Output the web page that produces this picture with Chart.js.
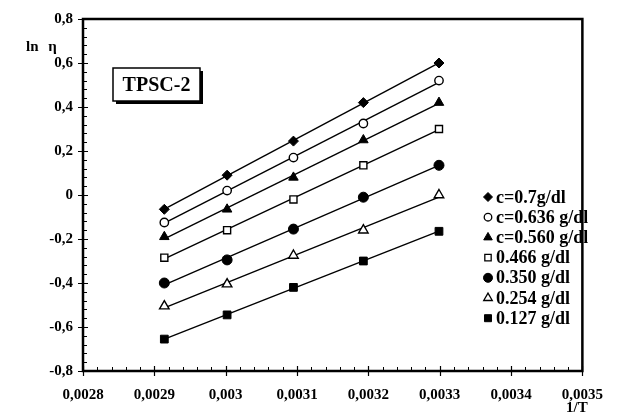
<!DOCTYPE html>
<html>
<head>
<meta charset="utf-8">
<script src="https://cdn.jsdelivr.net/npm/chart.js@4/dist/chart.umd.min.js"></script>
<style>
  html, body { margin: 0; padding: 0; background: #ffffff; }
  #wrap { width: 618px; height: 418px; }
</style>
</head>
<body>
<div id="wrap"><canvas id="c" width="618" height="418"></canvas></div>
<script>
// Reciprocal temperature of the measurements (1/K)
const invT = [0.002914, 0.003002, 0.003095, 0.003193, 0.003299];

// ln(eta) for each concentration
const c0700 = [-0.065, 0.09, 0.245, 0.42, 0.60];
const c0636 = [-0.125, 0.02, 0.17, 0.325, 0.52];
const c0560 = [-0.19, -0.065, 0.08, 0.25, 0.42];
const c0466 = [-0.285, -0.16, -0.02, 0.135, 0.30];
const c0350 = [-0.40, -0.295, -0.155, -0.01, 0.135];
const c0254 = [-0.505, -0.405, -0.275, -0.16, 0.0];
const c0127 = [-0.655, -0.545, -0.42, -0.30, -0.165];

const seriesNames = ['c=0.7g/dl', 'c=0.636 g/dl', 'c=0.560 g/dl', '0.466 g/dl', '0.350 g/dl', '0.254 g/dl', '0.127 g/dl'];
const seriesValues = [c0700, c0636, c0560, c0466, c0350, c0254, c0127];

// Axis ticks and their printed labels (decimal comma)
const xTicks = [0.0028, 0.0029, 0.0030, 0.0031, 0.0032, 0.0033, 0.0034, 0.0035];
const xTickLabels = ['0,0028', '0,0029', '0,003', '0,0031', '0,0032', '0,0033', '0,0034', '0,0035'];
const yTicks = [0.8, 0.6, 0.4, 0.2, 0, -0.2, -0.4, -0.6, -0.8];
const yTickLabels = ['0,8', '0,6', '0,4', '0,2', '0', '-0,2', '-0,4', '-0,6', '-0,8'];

const panelLabel = 'TPSC-2';
const yTitle = 'ln \u03B7';
const xTitle = '1/T';

// marker look per series: [pointStyle, filled, radius]
const markerStyles = [
  ['rectRot', true, 5],
  ['circle', false, 4.2],
  ['triangle', true, 5.5],
  ['rect', false, 5],
  ['circle', true, 5],
  ['triangle', false, 5.5],
  ['rect', true, 5.5]
];

const FONT = '"Liberation Serif", "Times New Roman", serif';

// least-squares line through one series
function fitLine(xs, ys) {
  const n = xs.length;
  let sx = 0, sy = 0, sxx = 0, sxy = 0;
  for (let i = 0; i < n; i++) { sx += xs[i]; sy += ys[i]; sxx += xs[i] * xs[i]; sxy += xs[i] * ys[i]; }
  const b = (n * sxy - sx * sy) / (n * sxx - sx * sx);
  const a = (sy - b * sx) / n;
  const x0 = xs[0], x1 = xs[n - 1];
  return [{ x: x0, y: a + b * x0 }, { x: x1, y: a + b * x1 }];
}

const datasets = [];
seriesValues.forEach((vals, i) => {
  datasets.push({
    type: 'line',
    label: seriesNames[i] + ' fit',
    data: fitLine(invT, vals),
    borderColor: '#000',
    borderWidth: 1.4,
    pointRadius: 0,
    fill: false,
    order: 2
  });
});
seriesValues.forEach((vals, i) => {
  const st = markerStyles[i];
  datasets.push({
    type: 'scatter',
    label: seriesNames[i],
    data: invT.map((x, k) => ({ x: x, y: vals[k] })),
    pointStyle: st[0],
    pointRadius: st[2],
    pointHoverRadius: st[2],
    backgroundColor: st[1] ? '#000' : '#fff',
    borderColor: '#000',
    borderWidth: st[1] ? 1 : 1.4,
    showLine: false,
    order: 1
  });
});

// frame, tick marks, titles, panel tag and legend
const decorations = {
  id: 'decorations',
  afterDatasetsDraw(chart) {
    const ctx = chart.ctx;
    const a = chart.chartArea;
    const xs = chart.scales.x, ys = chart.scales.y;
    ctx.save();
    ctx.strokeStyle = '#000';

    // minor ticks (inside)
    ctx.lineWidth = 1;
    ctx.beginPath();
    for (let i = 0; i <= 40; i++) {
      const v = -0.8 + i * 0.04;
      const p = Math.round(ys.getPixelForValue(v)) + 0.5;
      ctx.moveTo(a.left, p); ctx.lineTo(a.left + 4, p);
    }
    for (let i = 0; i <= 35; i++) {
      const v = 0.0028 + i * 0.00002;
      const p = Math.round(xs.getPixelForValue(v)) + 0.5;
      ctx.moveTo(p, a.bottom); ctx.lineTo(p, a.bottom - 4);
    }
    ctx.stroke();

    // major ticks (crossing)
    ctx.lineWidth = 1.2;
    ctx.beginPath();
    yTicks.forEach(v => {
      const p = Math.round(ys.getPixelForValue(v)) + 0.5;
      ctx.moveTo(a.left - 5, p); ctx.lineTo(a.left + 5, p);
    });
    xTicks.forEach(v => {
      const p = Math.round(xs.getPixelForValue(v)) + 0.5;
      ctx.moveTo(p, a.bottom + 5); ctx.lineTo(p, a.bottom - 5);
    });
    ctx.stroke();

    // frame
    ctx.lineWidth = 2.5;
    ctx.strokeRect(a.left, a.top, a.right - a.left, a.bottom - a.top);

    // axis titles
    ctx.fillStyle = '#000';
    ctx.font = 'bold 15px ' + FONT;
    ctx.textAlign = 'left';
    ctx.textBaseline = 'middle';
    ctx.wordSpacing = '6px';
    ctx.fillText(yTitle, 26, 47);
    ctx.wordSpacing = '0px';
    ctx.fillText(xTitle, 566, 408);

    // panel tag with drop shadow
    const bx = 113, by = 68, bw = 87, bh = 33;
    ctx.fillRect(bx + 3, by + 3, bw, bh);
    ctx.fillStyle = '#fff';
    ctx.fillRect(bx, by, bw, bh);
    ctx.lineWidth = 1.5;
    ctx.strokeRect(bx, by, bw, bh);
    ctx.fillStyle = '#000';
    ctx.font = 'bold 20px ' + FONT;
    ctx.textAlign = 'center';
    ctx.fillText(panelLabel, bx + bw / 2, by + bh / 2 + 1);

    // legend
    ctx.font = 'bold 18px ' + FONT;
    ctx.textAlign = 'left';
    const lx = 488, ly0 = 197, step = 20.2;
    seriesNames.forEach((name, i) => {
      const st = markerStyles[i];
      const y = ly0 + i * step;
      ctx.fillStyle = st[1] ? '#000' : '#fff';
      ctx.strokeStyle = '#000';
      ctx.lineWidth = st[1] ? 1 : 1.3;
      Chart.helpers.drawPoint(ctx, { pointStyle: st[0], radius: st[2] * 0.9, rotation: 0, borderWidth: ctx.lineWidth }, lx, y);
      ctx.fillStyle = '#000';
      ctx.fillText(name, lx + 8, y + 1);
    });
    ctx.restore();
  }
};

new Chart(document.getElementById('c'), {
  data: { datasets: datasets },
  options: {
    responsive: false,
    animation: false,
    events: [],
    layout: { padding: { left: 0, top: 16, right: 22, bottom: 0 } },
    plugins: { legend: { display: false }, tooltip: { enabled: false } },
    scales: {
      x: {
        type: 'linear',
        min: 0.0028,
        max: 0.0035,
        grid: { display: false, drawTicks: false },
        border: { display: false },
        afterBuildTicks: s => { s.ticks = xTicks.map(v => ({ value: v })); },
        afterFit: s => { s.height = 47; },
        ticks: {
          padding: 15,
          color: '#000',
          font: { family: FONT, size: 15, weight: 'bold' },
          maxRotation: 0,
          autoSkip: false,
          callback: (v, i) => xTickLabels[i]
        }
      },
      y: {
        type: 'linear',
        min: -0.8,
        max: 0.8,
        grid: { display: false, drawTicks: false },
        border: { display: false },
        afterBuildTicks: s => { s.ticks = yTicks.slice().reverse().map(v => ({ value: v })); },
        afterFit: s => { s.width = 83; },
        ticks: {
          padding: 10,
          color: '#000',
          font: { family: FONT, size: 15, weight: 'bold' },
          autoSkip: false,
          callback: (v, i) => yTickLabels[yTickLabels.length - 1 - i]
        }
      }
    }
  },
  plugins: [decorations]
});
</script>
</body>
</html>
